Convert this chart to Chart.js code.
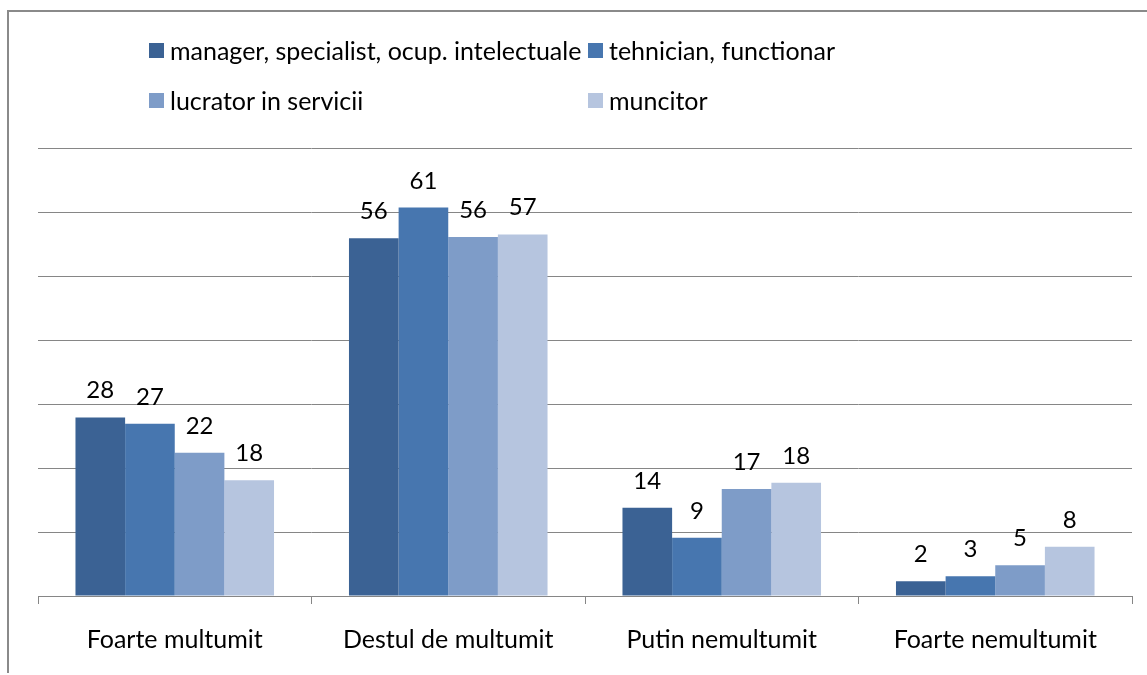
<!DOCTYPE html>
<html>
<head>
<meta charset="utf-8">
<script src="https://cdn.jsdelivr.net/npm/chart.js@4"></script>
<style>
  html, body { margin: 0; padding: 0; background: #fff; }
  body { width: 1147px; height: 675px; position: relative; overflow: hidden; font-family: Lato, sans-serif; }
  #frame { position: absolute; left: 7px; top: 10px; width: 1150px; height: 663px;
           border-left: 2px solid #8a8a8a; border-top: 2px solid #8a8a8a; box-sizing: border-box; }
  #wrap { position: absolute; left: 0; top: 0; width: 1147px; height: 675px; }
  #legend { position: absolute; left: 149px; top: 35px; display: grid;
            grid-template-columns: 439px auto; row-gap: 20px; font-size: 25px; color: #000; }
  #legend div { display: flex; align-items: center; height: 30px; white-space: nowrap; }
  #legend span.box { width: 15px; height: 15px; margin-right: 6px; display: inline-block; }
</style>
</head>
<body>
<div id="frame"></div>
<div id="wrap"><canvas id="chart" width="1147" height="675"></canvas></div>
<div id="legend"></div>
<script>
const categories = ["Foarte multumit", "Destul de multumit", "Putin nemultumit", "Foarte nemultumit"];
const seriesNames = ["manager, specialist, ocup. intelectuale", "tehnician, functionar", "lucrator in servicii", "muncitor"];
const seriesColors = ["#3b6294", "#4776af", "#7e9cc8", "#b6c5df"];

const managerValues = [27.9, 55.9, 13.8, 2.3];
const tehnicianValues = [26.9, 60.7, 9.1, 3.1];
const lucratorValues = [22.4, 56.1, 16.7, 4.8];
const muncitorValues = [18.1, 56.5, 17.7, 7.7];

const yMax = 70;
const yStep = 10;

const allValues = [managerValues, tehnicianValues, lucratorValues, muncitorValues];

// legend laid out as a 2x2 grid like the original
const legendEl = document.getElementById("legend");
legendEl.innerHTML = seriesNames
  .map((n, i) => `<div><span class="box" style="background:${seriesColors[i]}"></span>${n}</div>`)
  .join("");

// value labels above each bar
const barLabels = {
  id: "barLabels",
  afterDatasetsDraw(chart) {
    const ctx = chart.ctx;
    ctx.save();
    ctx.font = "24px Lato";
    ctx.fillStyle = "#000";
    ctx.textAlign = "center";
    ctx.textBaseline = "alphabetic";
    chart.data.datasets.forEach((ds, i) => {
      chart.getDatasetMeta(i).data.forEach((bar, j) => {
        ctx.fillText(Math.round(ds.data[j]), bar.x, bar.y - 19);
      });
    });
    ctx.restore();
  }
};

function draw() {
  new Chart(document.getElementById("chart"), {
    type: "bar",
    data: {
      labels: categories,
      datasets: allValues.map((vals, i) => ({
        label: seriesNames[i],
        data: vals,
        backgroundColor: seriesColors[i],
        borderWidth: 0,
        categoryPercentage: 0.726,
        barPercentage: 1
      }))
    },
    options: {
      responsive: false,
      animation: false,
      layout: { padding: { left: 38, right: 15, top: 148, bottom: 0 } },
      plugins: { legend: { display: false }, tooltip: { enabled: false } },
      scales: {
        x: {
          grid: { offset: true, drawOnChartArea: false, drawTicks: true, tickLength: 8, color: "#868686" },
          border: { display: true, color: "#868686" },
          ticks: { font: { family: "Lato", size: 25 }, color: "#000", padding: 21 },
          afterFit: s => { s.height = 79; }
        },
        y: {
          min: 0,
          max: yMax,
          ticks: { display: false, stepSize: yStep },
          grid: { color: "#868686", drawTicks: false },
          border: { display: false },
          afterFit: s => { s.width = 0; }
        }
      }
    },
    plugins: [barLabels]
  });
}

Promise.all([document.fonts.load("25px Lato"), document.fonts.load("24px Lato")]).then(draw, draw);
</script>
</body>
</html>
